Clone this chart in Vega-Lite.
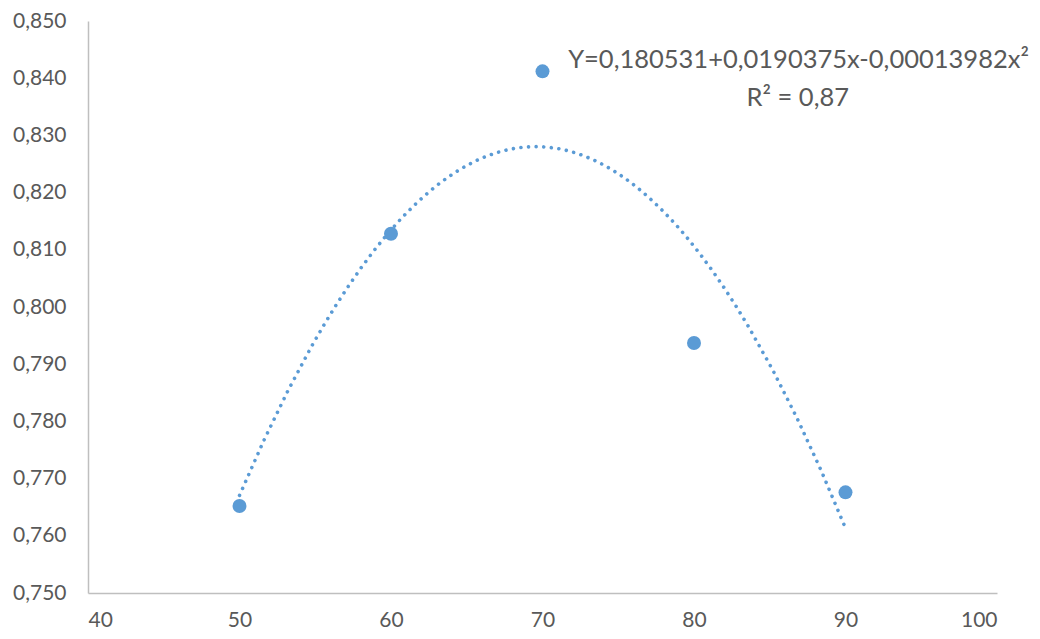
{
  "$schema": "https://vega.github.io/schema/vega-lite/v6.json",
  "width": 909,
  "height": 572,
  "autosize": "none",
  "padding": {"left": 88, "top": 21, "right": 43, "bottom": 46},
  "background": "white",
  "config": {
    "view": {"stroke": null},
    "font": "Lato",
    "axis": {
      "labelFont": "Lato",
      "labelFontSize": 21,
      "labelColor": "#595959",
      "domainColor": "#BFBFBF",
      "domainWidth": 1.5,
      "grid": false,
      "ticks": false,
      "title": null
    }
  },
  "datasets": {
    "points": [
      {"x": 50, "y": 0.7652},
      {"x": 60, "y": 0.8128},
      {"x": 70, "y": 0.8412},
      {"x": 80, "y": 0.7937},
      {"x": 90, "y": 0.7676}
    ],
    "labels": [
      {"x": 86.9, "y": 0.8432, "text": "Y=0,180531+0,0190375x-0,00013982x²"},
      {"x": 86.85, "y": 0.8365, "text": "R² = 0,87"}
    ]
  },
  "layer": [
    {
      "data": {"name": "points"},
      "transform": [
        {"regression": "y", "on": "x", "method": "poly", "order": 2, "extent": [50, 90]}
      ],
      "mark": {"type": "line", "color": "#5B9BD5", "strokeWidth": 3.6, "strokeCap": "round", "strokeDash": [0.01, 7.6]},
      "encoding": {
        "x": {"field": "x", "type": "quantitative", "scale": {"domain": [40, 100], "nice": false, "zero": false},
              "axis": {"values": [40, 50, 60, 70, 80, 90, 100], "labelPadding": 16}},
        "y": {"field": "y", "type": "quantitative", "scale": {"domain": [0.75, 0.85], "nice": false, "zero": false},
              "axis": {"values": [0.75, 0.76, 0.77, 0.78, 0.79, 0.8, 0.81, 0.82, 0.83, 0.84, 0.85],
                       "labelExpr": "replace(format(datum.value, '.3f'), '.', ',')", "labelPadding": 22}}
      }
    },
    {
      "data": {"name": "points"},
      "mark": {"type": "point", "filled": true, "color": "#5B9BD5", "size": 195, "opacity": 1},
      "encoding": {
        "x": {"field": "x", "type": "quantitative"},
        "y": {"field": "y", "type": "quantitative"}
      }
    },
    {
      "data": {"name": "labels"},
      "mark": {"type": "text", "align": "center", "baseline": "middle", "fontSize": 25.5, "color": "#595959", "font": "Lato"},
      "encoding": {
        "x": {"field": "x", "type": "quantitative"},
        "y": {"field": "y", "type": "quantitative"},
        "text": {"field": "text"}
      }
    }
  ]
}
